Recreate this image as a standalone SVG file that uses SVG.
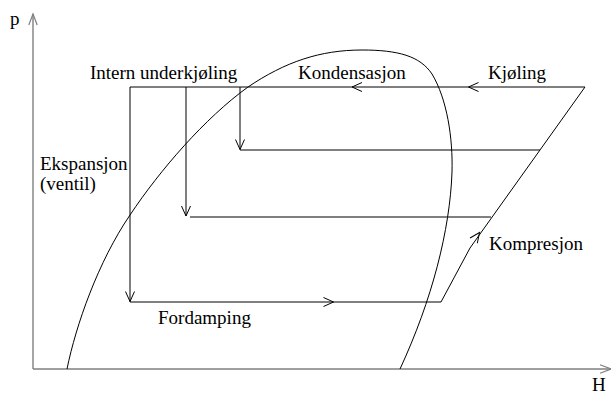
<svg xmlns="http://www.w3.org/2000/svg" xmlns:xlink="http://www.w3.org/1999/xlink" width="611" height="394" viewBox="0 0 611 394">
<style>
.ax{fill:none;stroke:#808080;stroke-width:1.4}
.ln{fill:none;stroke:#000;stroke-width:1}
.dome{fill:none;stroke:#000;stroke-width:1}
.t{font-family:"Liberation Serif","Times New Roman",serif;font-size:19px;fill:#000}
</style>
<defs>
<path id="chev" d="M-10,-4.5 L0,0 L-10,4.5" fill="none" stroke="#000" stroke-width="1"/>
<path id="achev" d="M-11,-4.2 L0,0 L-11,4.2" fill="none" stroke="#808080" stroke-width="1.2"/>
</defs>
<g id="axes">
<path class="ax" d="M33,369 V14 M33,369 H611"/>
<use xlink:href="#achev" href="#achev" transform="translate(33,14) rotate(-90)"/>
<use xlink:href="#achev" href="#achev" transform="translate(611,369)"/>
<text class="t" x="10" y="25">p</text>
<text class="t" x="592" y="391">H</text>
</g>
<g id="dome">
<path class="dome" d="M67,369 C76,325 98,262 130,215 C160,170 205,118 248,87 C285,62 320,50 362,50 C398,50 420,56 432,74 C447,99 453,138 452,172 C450,230 432,300 400,369"/>
</g>
<g id="connectors">
<path class="ln" d="M130,87 H585 L470,248 L441,302 H130 Z"/>
<path class="ln" d="M186,87 V216 M190,217 H491"/>
<path class="ln" d="M240,87 V149.5 M240,150 H540"/>
<use xlink:href="#chev" href="#chev" transform="translate(130,301.5) rotate(90)"/>
<use xlink:href="#chev" href="#chev" transform="translate(186,216) rotate(90)"/>
<use xlink:href="#chev" href="#chev" transform="translate(240,149.5) rotate(90)"/>
<use xlink:href="#chev" href="#chev" transform="translate(352,87) rotate(180)"/>
<use xlink:href="#chev" href="#chev" transform="translate(468.5,87) rotate(180)"/>
<use xlink:href="#chev" href="#chev" transform="translate(333.5,302)"/>
<use xlink:href="#chev" href="#chev" transform="translate(479.5,232.5) rotate(-54.5)"/>
</g>
<g id="labels">
<text class="t" x="90" y="79">Intern underkjøling</text>
<text class="t" x="298" y="79">Kondensasjon</text>
<text class="t" x="488" y="79">Kjøling</text>
<text class="t" x="40" y="170">Ekspansjon</text>
<text class="t" x="40" y="190">(ventil)</text>
<text class="t" x="158" y="324">Fordamping</text>
<text class="t" x="489" y="250">Kompresjon</text>
</g>
</svg>
